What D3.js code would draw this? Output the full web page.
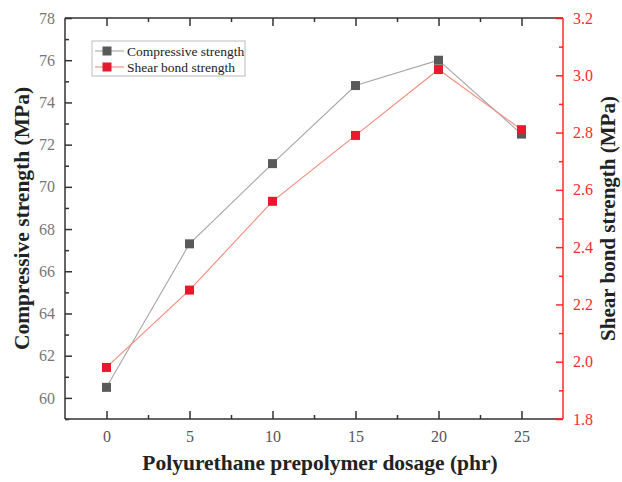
<!DOCTYPE html>
<html><head><meta charset="utf-8">
<script src="https://cdn.jsdelivr.net/npm/d3@7"></script>
<style>body{margin:0;background:#fff}svg{display:block}</style>
</head><body>
<script>
const dosage = [0, 5, 10, 15, 20, 25];
const compressive = [60.5, 67.3, 71.1, 74.8, 76.0, 72.5];
const shear = [1.98, 2.25, 2.56, 2.79, 3.02, 2.81];
const xTicks = [0, 5, 10, 15, 20, 25];
const leftTicks = [60, 62, 64, 66, 68, 70, 72, 74, 76, 78];
const rightTicks = [1.8, 2.0, 2.2, 2.4, 2.6, 2.8, 3.0, 3.2];
const seriesNames = ["Compressive strength", "Shear bond strength"];

const W = 622, H = 482;
const m = {l: 65, r: 59, t: 18, b: 63};
const svg = d3.select("body").append("svg").attr("width", W).attr("height", H);
const x = d3.scaleLinear().domain([-2.5, 27.5]).range([m.l, W - m.r]);
const yL = d3.scaleLinear().domain([59, 78]).range([H - m.b, m.t]);
const yR = d3.scaleLinear().domain([1.8, 3.2]).range([H - m.b, m.t]);
const serif = "'Liberation Serif','DejaVu Serif',serif";
const axisCol = "#333";
const red = "#ff2a2a";

function styleAxis(g, col, labelCol) {
  g.attr("font-family", serif);
  g.select(".domain").remove();
  g.selectAll("line").attr("stroke", col).attr("stroke-width", 1.5);
  g.selectAll("text").attr("font-family", serif).attr("font-size", 16).attr("fill", labelCol);
}
const xMinor = [2.5, 7.5, 12.5, 17.5, 22.5];
const lMinor = [59, 61, 63, 65, 67, 69, 71, 73, 75, 77];
const rMinor = [1.9, 2.1, 2.3, 2.5, 2.7, 2.9, 3.1];

// bottom
svg.append("g").attr("transform", `translate(0,${H - m.b})`)
  .call(d3.axisBottom(x).tickValues(xTicks).tickSize(-8).tickPadding(12).tickFormat(d3.format("d")))
  .call(g2 => styleAxis(g2, axisCol, "#555"));
svg.append("g").attr("transform", `translate(0,${H - m.b})`)
  .call(d3.axisBottom(x).tickValues(xMinor).tickSize(-4).tickFormat(""))
  .call(g2 => styleAxis(g2, axisCol, "#555"));
// top
svg.append("g").attr("transform", `translate(0,${m.t})`)
  .call(d3.axisTop(x).tickValues(xTicks).tickSize(-8).tickFormat(""))
  .call(g2 => styleAxis(g2, axisCol, "#555"));
svg.append("g").attr("transform", `translate(0,${m.t})`)
  .call(d3.axisTop(x).tickValues(xMinor).tickSize(-4).tickFormat(""))
  .call(g2 => styleAxis(g2, axisCol, "#555"));
// left
svg.append("g").attr("transform", `translate(${m.l},0)`)
  .call(d3.axisLeft(yL).tickValues(leftTicks).tickSize(-7).tickPadding(10).tickFormat(d3.format("d")))
  .call(g2 => styleAxis(g2, axisCol, "#777"));
svg.append("g").attr("transform", `translate(${m.l},0)`)
  .call(d3.axisLeft(yL).tickValues(lMinor).tickSize(-4).tickFormat(""))
  .call(g2 => styleAxis(g2, axisCol, "#777"));
// right
svg.append("g").attr("transform", `translate(${W - m.r},0)`)
  .call(d3.axisRight(yR).tickValues(rightTicks).tickSize(-7).tickPadding(10).tickFormat(d3.format(".1f")))
  .call(g2 => styleAxis(g2, red, red));
svg.append("g").attr("transform", `translate(${W - m.r},0)`)
  .call(d3.axisRight(yR).tickValues(rMinor).tickSize(-4).tickFormat(""))
  .call(g2 => styleAxis(g2, red, red));

// frame lines
svg.append("line").attr("x1", m.l).attr("x2", W - m.r).attr("y1", m.t).attr("y2", m.t).attr("stroke", axisCol).attr("stroke-width", 1.5);
svg.append("line").attr("x1", m.l).attr("x2", W - m.r).attr("y1", H - m.b).attr("y2", H - m.b).attr("stroke", axisCol).attr("stroke-width", 1.5);
svg.append("line").attr("x1", m.l).attr("x2", m.l).attr("y1", m.t).attr("y2", H - m.b).attr("stroke", axisCol).attr("stroke-width", 1.5);
svg.append("line").attr("x1", W - m.r).attr("x2", W - m.r).attr("y1", m.t).attr("y2", H - m.b).attr("stroke", red).attr("stroke-width", 1.5);
svg.append("line").attr("x1", W - m.r - 8).attr("x2", W - m.r).attr("y1", H - m.b).attr("y2", H - m.b).attr("stroke", red).attr("stroke-width", 1.5);
svg.append("line").attr("x1", W - m.r - 8).attr("x2", W - m.r).attr("y1", m.t).attr("y2", m.t).attr("stroke", red).attr("stroke-width", 1.5);

// series
const series = [
  {vals: compressive, y: yL, line: "#a6a6a6", mark: "#595959"},
  {vals: shear, y: yR, line: "#f58a78", mark: "#e8192c"}
];
const ms = 9;
series.forEach(s => {
  const ln = d3.line().x((d, i) => x(dosage[i])).y(d => s.y(d));
  svg.append("path").attr("d", ln(s.vals)).attr("fill", "none").attr("stroke", s.line).attr("stroke-width", 1.1);
});
series.forEach(s => {
  svg.append("g").selectAll("rect").data(s.vals).join("rect")
    .attr("x", (d, i) => x(dosage[i]) - ms / 2).attr("y", d => s.y(d) - ms / 2)
    .attr("width", ms).attr("height", ms).attr("fill", s.mark);
});

// legend
const lg = svg.append("g");
lg.append("rect").attr("x", 92).attr("y", 41).attr("width", 153).attr("height", 35)
  .attr("fill", "#fff").attr("stroke", "#bbb").attr("stroke-width", 1);
series.forEach((s, i) => {
  const yy = 51 + i * 16;
  lg.append("line").attr("x1", 95).attr("x2", 124).attr("y1", yy).attr("y2", yy).attr("stroke", s.line).attr("stroke-width", 1.1);
  lg.append("rect").attr("x", 107 - 4.5).attr("y", yy - 4.5).attr("width", 9).attr("height", 9).attr("fill", s.mark);
  lg.append("text").attr("x", 127).attr("y", yy + 4.5).attr("font-family", serif).attr("font-size", 13.5)
    .attr("fill", "#222").text(seriesNames[i]);
});

// titles
svg.append("text").attr("x", 320).attr("y", 470).attr("text-anchor", "middle")
  .attr("font-family", serif).attr("font-weight", "bold").attr("font-size", 21.5).attr("fill", "#222")
  .text("Polyurethane prepolymer dosage (phr)");
svg.append("text").attr("transform", `translate(29,${(m.t + H - m.b) / 2}) rotate(-90)`).attr("text-anchor", "middle")
  .attr("font-family", serif).attr("font-weight", "bold").attr("font-size", 21.5).attr("fill", "#222")
  .text("Compressive strength (MPa)");
svg.append("text").attr("transform", `translate(615,${(m.t + H - m.b) / 2}) rotate(-90)`).attr("text-anchor", "middle")
  .attr("font-family", serif).attr("font-weight", "bold").attr("font-size", 21).attr("fill", "#222")
  .text("Shear bond strength (MPa)");
</script>
</body></html>
